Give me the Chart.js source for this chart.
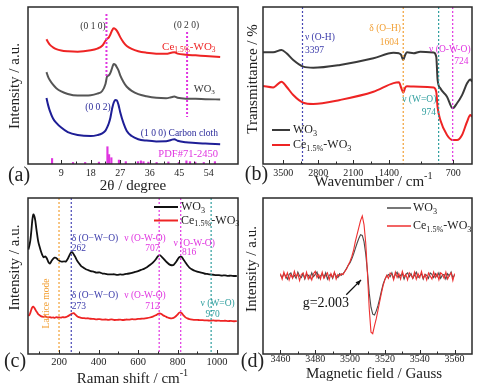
<!DOCTYPE html>
<html><head><meta charset="utf-8">
<script src="https://cdn.jsdelivr.net/npm/chart.js@4"></script>
<style>
html,body{margin:0;padding:0;background:#fff;}
#wrap{position:relative;width:480px;height:392px;overflow:hidden;background:#fff;}
canvas{position:absolute;}
</style></head><body>
<div id="wrap">
<canvas id="ca" width="240" height="195" style="left:0;top:0"></canvas>
<canvas id="cb" width="240" height="195" style="left:240px;top:0"></canvas>
<canvas id="cc" width="240" height="197" style="left:0;top:195px"></canvas>
<canvas id="cd" width="240" height="197" style="left:240px;top:195px"></canvas>
</div>
<script>
// ---------- (a) XRD ----------
const xrdTheta = [4.5,5,5.5,6.5,7.5,9,11,14,18,20,21.5,22.5,23,23.5,24,24.5,25,25.5,26,26.5,27,28,29,30.5,32.5,35,38,41,42.5,43.5,44.5,47,50,53,57.5];
const xrdCe    = [79.5,77.5,76,74.3,73.2,72.3,71.8,71.5,72.4,73.5,75.3,78.5,79.8,80.5,82.5,85,86.4,86,84.8,83,80.8,77.5,75.2,73.3,71.8,70.9,70.3,70.2,70.8,71.2,70.3,69.6,69.2,68.8,68.2];
const xrdWO3   = [58.5,55.5,53.5,50.5,48.3,46.2,44.6,43.6,43.8,44.8,46.5,51,55.8,56.4,58,61,63.7,63.2,61.5,59.5,56.5,52.3,49.2,46.6,44.5,43.2,42.2,41.9,42.5,43,42.2,41.6,41.5,41.3,41.1];
const xrdCloth = [42,37.5,34,29,26.2,23.2,20.3,18.5,17.8,18.4,19.5,21.3,23.3,25.8,29.5,35,39,40.8,40.5,37.5,33,26,21,17.8,15.8,14.9,14.4,14.5,15.3,15.8,14.8,13.8,13.4,13,12.6];
const pdfTheta  = [6.2,12.6,16.3,20.5,23.1,23.6,24.3,26.6,28.7,32.4,33.3,34.1,35.6,38.1,41.7,44.9,47.2,48.3,49.9,52.5,55.9];
const pdfHeight = [3.5,1,1,1.2,11,6,4,2.5,1.5,1.5,2,1.5,1.2,1,1.3,1,2,1.5,1.2,1,1.5];
const xrdTicks = [9,18,27,36,45,54];
const xrdMinor = [13.5,22.5,31.5,40.5,49.5];

// ---------- (b) FTIR ----------
const irWave = [4098,3919,3770,3681,3562,3384,3205,2729,2134,1777,1680,1640,1604,1570,1539,1420,1301,1063,1016,992,944,825,724,647,557,468,409,379];
const irWO3  = [71.1,71.1,72.6,70.5,66.2,62,61.3,63.1,67.3,70.9,70.5,69.4,66.2,69.4,71.1,70.5,71.5,71,68.3,53.5,48.2,42.9,35.5,38.7,43.9,51.4,53.9,52.4];
const irCe   = [49.7,48.8,52.4,49.2,43.9,39,38.2,40.8,46,51.5,52,48.5,45.4,48.5,49.5,49.3,49.2,48.8,46,36,28,18.5,15.3,15.3,18.5,26.9,31.2,30];
// tick labels as printed, and where along the plotted wavenumber scale the figure prints them
const irTickLabels = ['3500','2800','2100','1400','700'];
const irTickAt     = [3739,3116,2493,1857,713];
const irMinorAt    = [3428,2805,2175,1285];

// ---------- (c) Raman ----------
const ramanShift = [45,50,55,60,65,70,75,80,85,90,95,100,108,115,122,130,138,146,154,162,170,178,186,194,202,210,218,226,234,242,250,258,266,274,282,290,300,312,324,336,348,360,375,390,405,420,435,450,465,480,495,510,525,540,555,570,585,600,615,630,645,660,675,690,700,710,720,730,740,750,760,770,780,790,800,810,820,830,840,850,860,875,890,905,920,935,950,965,980,995,1010,1025,1040,1055,1070,1085,1100];
const ramanWO3 = [67.0,69.5,73.0,79.0,86.0,89.5,88.5,85.5,80.5,76.0,72.0,69.5,66.0,63.6,62.0,62.6,61.4,59.0,58.0,59.6,61.0,61.7,61.5,60.5,59.8,59.3,59.2,59.4,59.2,60.5,62.5,64.6,65.3,64.0,62.3,60.2,58.3,56.4,55.3,54.3,53.8,53.1,52.8,52.2,52.3,51.6,51.4,51.1,51.0,51.1,50.7,51.0,50.9,51.3,51.6,52.0,52.6,53.1,53.9,54.6,55.6,57.0,58.6,60.7,62.6,63.4,62.3,61.0,59.5,58.3,57.3,56.9,57.1,58.6,60.5,62.2,62.3,60.6,58.7,56.9,55.4,54.1,53.2,52.6,52.1,51.6,51.3,51.0,50.8,50.6,50.5,50.3,50.4,50.1,50.2,50.0,50.0];
const ramanCe  = [24.5,25.0,26.5,28.5,30.0,30.3,29.6,28.5,27.4,26.5,25.5,25.0,24.3,24.0,23.8,24.2,23.6,23.4,23.7,23.3,23.5,23.2,23.6,23.4,23.5,23.3,23.6,23.5,23.6,24.0,24.6,25.3,25.9,26.2,25.4,24.4,23.6,23.2,23.0,22.8,22.9,22.6,22.5,22.2,22.4,22.0,22.1,21.9,22.2,21.8,21.9,22.0,21.8,22.1,22.0,22.3,22.2,22.5,22.6,22.7,23.0,23.4,24.0,24.8,25.6,26.1,25.5,24.6,24.0,23.4,23.0,22.9,23.2,24.0,25.3,26.6,26.3,24.8,23.5,22.8,22.4,22.1,21.9,21.8,21.7,21.6,21.5,21.4,21.5,21.3,21.4,21.2,21.3,21.1,21.2,21.0,21.1];
const ramanTicks = [200,400,600,800,1000];
const ramanMinor = [100,300,500,700,900];

// ---------- (d) EPR ----------
const eprField = [3460,3461,3462,3463,3464,3465,3466,3467,3468,3469,3470,3471,3472,3473,3474,3475,3476,3477,3478,3479,3480,3481,3482,3483,3484,3485,3486,3487,3488,3489,3490,3491,3492,3493,3494,3495,3496,3497,3498,3499,3500,3501,3502,3503,3504,3505,3506,3507,3508,3509,3510,3511,3512,3513,3514,3515,3516,3517,3518,3519,3520,3521,3522,3523,3524,3525,3526,3527,3528,3529,3530,3531,3532,3533,3534,3535,3536,3537,3538,3539,3540,3541,3542,3543,3544,3545,3546,3547,3548,3549,3550,3551,3552,3553,3554,3555,3556,3557,3558,3559,3560];
const eprWO3 = [0.01,-0.02,0.03,0.00,-0.04,0.02,0.04,-0.02,0.01,-0.03,0.05,0.00,-0.02,0.03,-0.04,0.02,0.01,-0.03,0.04,-0.01,0.02,0.05,-0.03,0.00,0.03,-0.02,0.04,-0.04,0.01,0.02,-0.03,0.04,0.00,-0.02,0.03,0.01,
 0.03,0.06,0.10,0.14,0.17,0.22,0.28,0.35,0.42,0.48,0.53,0.52,0.44,0.28,0.05,-0.22,-0.40,-0.49,-0.50,-0.45,-0.38,-0.29,-0.19,-0.10,-0.04,0.00,
 0.02,-0.01,0.04,-0.03,0.02,0.05,-0.02,0.01,0.03,-0.04,0.02,0.04,-0.01,0.03,-0.03,0.01,0.05,-0.02,0.00,0.03,-0.04,0.02,0.01,-0.03,0.04,0.02,-0.02,0.03,-0.01,0.04,-0.03,0.01,0.02,-0.04,0.03,0.00,0.05,-0.02,0.01];
const eprCe = [0.03,-0.04,0.05,-0.02,0.04,-0.05,0.02,-0.03,0.06,-0.01,0.03,-0.06,0.02,0.04,-0.03,0.05,-0.04,0.01,-0.05,0.03,0.06,-0.02,0.02,-0.04,0.05,-0.03,0.01,0.04,-0.05,0.03,-0.02,0.05,-0.04,0.02,0.00,0.03,
 0.02,0.06,0.09,0.14,0.19,0.25,0.33,0.44,0.53,0.62,0.71,0.77,0.66,0.42,0.02,-0.42,-0.72,-0.74,-0.64,-0.55,-0.44,-0.33,-0.22,-0.12,-0.05,0.01,
 -0.03,0.04,0.02,-0.05,0.05,-0.02,0.03,-0.04,0.06,-0.01,0.02,-0.05,0.04,0.01,-0.03,0.05,-0.04,0.03,-0.02,0.06,-0.03,0.02,-0.05,0.04,0.00,-0.04,0.05,-0.02,0.03,-0.05,0.04,0.02,-0.03,0.05,-0.04,0.01,0.04,-0.06,0.03];
const eprTicks = [3460,3480,3500,3520,3540,3560];
const eprMinor = [3470,3490,3510,3530,3550];

// ---------- helpers ----------
const FONT = '"Liberation Serif","Times New Roman",serif';
function pts(xs, ys){ return xs.map((x,i)=>({x:x, y:ys[i]})); }
function richParts(str){
  const parts=[]; let i=0, buf='';
  while(i<str.length){
    const c=str[i];
    if((c==='_'||c==='^') && str[i+1]==='{'){
      if(buf){parts.push({t:buf,m:0}); buf='';}
      const j=str.indexOf('}',i);
      parts.push({t:str.slice(i+2,j), m:c==='_'?1:2});
      i=j+1;
    } else { buf+=c; i++; }
  }
  if(buf) parts.push({t:buf,m:0});
  return parts;
}
function drawRich(ctx, str, x, y, o){
  const size=o.size||10, parts=richParts(str);
  ctx.save();
  ctx.fillStyle=o.color||'#222';
  ctx.textBaseline='middle'; ctx.textAlign='left';
  let w=0;
  parts.forEach(p=>{ p.s = p.m? size*0.68 : size; ctx.font=p.s+'px '+FONT; p.w=ctx.measureText(p.t).width; w+=p.w; });
  ctx.translate(x,y);
  if(o.rotate) ctx.rotate(o.rotate);
  let cx = o.align==='center' ? -w/2 : (o.align==='right' ? -w : 0);
  parts.forEach(p=>{ ctx.font=p.s+'px '+FONT; const dy = p.m===1 ? size*0.3 : (p.m===2 ? -size*0.35 : 0); ctx.fillText(p.t, cx, dy); cx+=p.w; });
  ctx.restore();
}
function makeDecor(o){
  return { id:'decor', afterDraw(chart){
    const ctx=chart.ctx, a=chart.chartArea, xs=chart.scales.x, ys=chart.scales.y;
    ctx.save();
    (o.vlines||[]).forEach(v=>{
      const px=xs.getPixelForValue(v.x);
      const y0 = v.y0==null ? a.top : ys.getPixelForValue(v.y0);
      const y1 = v.y1==null ? a.bottom : ys.getPixelForValue(v.y1);
      ctx.beginPath(); ctx.setLineDash(v.dash||[2,2]); ctx.lineWidth=v.w||1.2; ctx.strokeStyle=v.color;
      ctx.moveTo(px,y0); ctx.lineTo(px,y1); ctx.stroke();
    });
    ctx.setLineDash([]);
    ctx.lineWidth=1.5; ctx.strokeStyle='#2a2a2a';
    ctx.strokeRect(a.left, a.top, a.right-a.left, a.bottom-a.top);
    ctx.lineWidth=1;
    (o.major||[]).forEach(v=>{ const px=Math.round(xs.getPixelForValue(v))+0.5; ctx.beginPath(); ctx.moveTo(px,a.bottom); ctx.lineTo(px,a.bottom-4); ctx.stroke(); });
    (o.minor||[]).forEach(v=>{ const px=Math.round(xs.getPixelForValue(v))+0.5; ctx.beginPath(); ctx.moveTo(px,a.bottom); ctx.lineTo(px,a.bottom-2.5); ctx.stroke(); });
    (o.labels||[]).forEach(l=>drawRich(ctx, l.t, xs.getPixelForValue(l.x), ys.getPixelForValue(l.y), l));
    (o.arrows||[]).forEach(r=>{
      const x0=xs.getPixelForValue(r.x0), y0=ys.getPixelForValue(r.y0), x1=xs.getPixelForValue(r.x1), y1=ys.getPixelForValue(r.y1);
      ctx.strokeStyle='#111'; ctx.fillStyle='#111'; ctx.lineWidth=1.3;
      ctx.beginPath(); ctx.moveTo(x0,y0); ctx.lineTo(x1,y1); ctx.stroke();
      const ang=Math.atan2(y1-y0,x1-x0), L=6;
      ctx.beginPath(); ctx.moveTo(x1,y1);
      ctx.lineTo(x1-L*Math.cos(ang-0.4), y1-L*Math.sin(ang-0.4));
      ctx.lineTo(x1-L*Math.cos(ang+0.4), y1-L*Math.sin(ang+0.4));
      ctx.closePath(); ctx.fill();
    });
    if(o.legend){
      const g=o.legend;
      chart.data.datasets.forEach((ds,i)=>{
        const y=g.y+i*g.dy;
        ctx.strokeStyle=ds.borderColor; ctx.lineWidth=g.lw;
        ctx.beginPath(); ctx.moveTo(g.x0,y); ctx.lineTo(g.x1,y); ctx.stroke();
        drawRich(ctx, ds.label, g.tx, y, {size:g.size, color:'#222', align:'left'});
      });
    }
    (o.titles||[]).forEach(t=>drawRich(ctx, t.t, t.px, t.py, t));
    ctx.restore();
  }};
}
function xScale(min,max,ticks,h,pad,reverse,size,labels){
  return { type:'linear', min:min, max:max, reverse:!!reverse,
    afterBuildTicks: s=>{ s.ticks = ticks.map(v=>({value:v})); },
    afterFit: s=>{ s.height=h; },
    grid:{display:false, drawTicks:false}, border:{display:false},
    ticks:{ autoSkip:false, maxRotation:0, padding:pad, color:'#222', font:{family:FONT, size:size||10},
      callback:(v,i)=> labels ? labels[i] : String(v) } };
}
function baseOpts(pad, xs, ymin, ymax){
  return { responsive:false, animation:false, devicePixelRatio:1,
    layout:{padding:pad},
    plugins:{legend:{display:false}, tooltip:{enabled:false}},
    elements:{point:{radius:0}},
    scales:{ x:xs, y:{display:false, min:ymin, max:ymax} } };
}
const ROT = -Math.PI/2;
const RED='#ee2424', MAG='#e035e0', ORA='#f2a035', BLU='#4646b4', TEAL='#2e9e9e';

// ---------- chart (a) ----------
new Chart(document.getElementById('ca'), {
  type:'line',
  data:{ datasets:[
    {label:'Ce_{1.5%}-WO_{3}', data:pts(xrdTheta,xrdCe), borderColor:RED, borderWidth:2, cubicInterpolationMode:'monotone'},
    {label:'WO_{3}', data:pts(xrdTheta,xrdWO3), borderColor:'#555555', borderWidth:2, cubicInterpolationMode:'monotone'},
    {label:'Carbon cloth', data:pts(xrdTheta,xrdCloth), borderColor:'#1e1e96', borderWidth:2, cubicInterpolationMode:'monotone'},
    {type:'bar', label:'PDF#71-2450', data:pts(pdfTheta,pdfHeight), backgroundColor:MAG, barThickness:1.5}
  ]},
  options: baseOpts({left:28, top:7, right:2, bottom:0}, xScale(4.2,57.6,xrdTicks,31,3.5), 0, 100),
  plugins:[makeDecor({
    major:xrdTicks, minor:xrdMinor,
    vlines:[{x:22.8, y0:95.5, y1:55.4, color:MAG, w:2, dash:[2,2]},{x:47.4, y0:84, y1:30, color:MAG, w:2, dash:[2,2]}],
    labels:[
      {t:'(0 1 0)', x:18.7, y:87.3, color:'#333', size:9.5, align:'center'},
      {t:'(0 2 0)', x:47.2, y:88.5, color:'#333', size:9.5, align:'center'},
      {t:'Ce_{1.5%}-WO_{3}', x:56.1, y:74.5, color:RED, size:11, align:'right'},
      {t:'WO_{3}', x:55.9, y:47.8, color:'#333', size:10.5, align:'right'},
      {t:'(0 0 2)', x:20.2, y:35.7, color:'#2a2a9a', size:9.5, align:'center'},
      {t:'(1 0 0) Carbon cloth', x:56.8, y:19.7, color:'#2a2a9a', size:9.5, align:'right'},
      {t:'PDF#71-2450', x:56.8, y:6.4, color:MAG, size:10.5, align:'right'}
    ],
    titles:[
      {t:'Intensity / a.u.', px:15.5, py:86, size:15, rotate:ROT, align:'center'},
      {t:'2θ / degree', px:133, py:186, size:15, align:'center'},
      {t:'(a)', px:19, py:176, size:20, align:'center'}
    ]
  })]
});

// ---------- chart (b) ----------
new Chart(document.getElementById('cb'), {
  type:'line',
  data:{ datasets:[
    {label:'WO_{3}', data:pts(irWave,irWO3), borderColor:'#3a3a3a', borderWidth:2, cubicInterpolationMode:'monotone'},
    {label:'Ce_{1.5%}-WO_{3}', data:pts(irWave,irCe), borderColor:RED, borderWidth:2, cubicInterpolationMode:'monotone'}
  ]},
  options: baseOpts({left:23, top:7, right:8, bottom:0}, xScale(380,4100,irTickAt,31,3,true,10,irTickLabels), 0, 100),
  plugins:[makeDecor({
    major:irTickAt, minor:irMinorAt,
    vlines:[{x:3397,color:BLU},{x:1604,color:ORA},{x:974,color:TEAL},{x:724,color:MAG}],
    labels:[
      {t:'ν (O-H)', x:3354, y:80.3, color:'#3a3aaa', size:9.5, align:'left'},
      {t:'3397', x:3354, y:72.6, color:'#3a3aaa', size:9.5, align:'left'},
      {t:'δ (O–H)', x:1926, y:86.6, color:ORA, size:9.5, align:'center'},
      {t:'1604', x:1855, y:77.7, color:ORA, size:9.5, align:'center'},
      {t:'ν (O-W-O)', x:775, y:73.2, color:MAG, size:9.5, align:'center'},
      {t:'724', x:569, y:65, color:MAG, size:9.5, align:'center'},
      {t:'ν (W=O)', x:1319, y:40.8, color:TEAL, size:9.5, align:'center'},
      {t:'974', x:1149, y:32.7, color:TEAL, size:9.5, align:'center'}
    ],
    legend:{x0:32, x1:50, tx:53, y:130, dy:15, size:12, lw:2},
    titles:[
      {t:'Transmittance / %', px:13.5, py:79, size:15, rotate:ROT, align:'center'},
      {t:'Wavenumber / cm^{-1}', px:133.5, py:182, size:15, align:'center'},
      {t:'(b)', px:16.5, py:175, size:20, align:'center'}
    ]
  })]
});

// ---------- chart (c) ----------
new Chart(document.getElementById('cc'), {
  type:'line',
  data:{ datasets:[
    {label:'WO_{3}', data:pts(ramanShift,ramanWO3), borderColor:'#111111', borderWidth:1.8, tension:0.3},
    {label:'Ce_{1.5%}-WO_{3}', data:pts(ramanShift,ramanCe), borderColor:RED, borderWidth:1.8, tension:0.3}
  ]},
  options: baseOpts({left:28, top:3, right:2, bottom:0}, xScale(43,1106,ramanTicks,38,2,false,10.5), 0, 100),
  plugins:[makeDecor({
    major:ramanTicks, minor:ramanMinor,
    vlines:[{x:200,color:ORA},{x:262,color:BLU},{x:707,color:MAG},{x:816,color:MAG},{x:970,color:TEAL}],
    labels:[
      {t:'δ (O−W−O)', x:264, y:74.2, color:'#3a3aaa', size:9.5, align:'left'},
      {t:'262', x:264, y:67.7, color:'#3a3aaa', size:9.5, align:'left'},
      {t:'ν (O-W-O)', x:635, y:74.2, color:MAG, size:9.5, align:'center'},
      {t:'707', x:673, y:67.7, color:MAG, size:9.5, align:'center'},
      {t:'ν (O-W-O)', x:884, y:71, color:MAG, size:9.5, align:'center'},
      {t:'816', x:858, y:65.2, color:MAG, size:9.5, align:'center'},
      {t:'δ (O−W−O)', x:264, y:37.8, color:'#3a3aaa', size:9.5, align:'left'},
      {t:'273', x:264, y:30.3, color:'#3a3aaa', size:9.5, align:'left'},
      {t:'ν (O-W-O)', x:635, y:37.8, color:MAG, size:9.5, align:'center'},
      {t:'712', x:673, y:30.3, color:MAG, size:9.5, align:'center'},
      {t:'ν (W=O)', x:1003, y:32.5, color:TEAL, size:9.5, align:'center'},
      {t:'970', x:977, y:25.4, color:TEAL, size:9.5, align:'center'},
      {t:'Lattice mode', x:139, y:32.4, color:ORA, size:9.5, align:'center', rotate:ROT}
    ],
    legend:{x0:154, x1:178, tx:181, y:12, dy:13.5, size:12, lw:2},
    titles:[
      {t:'Intensity / a.u.', px:15.5, py:72.5, size:15, rotate:ROT, align:'center'},
      {t:'Raman shift / cm^{-1}', px:132.5, py:184, size:15, align:'center'},
      {t:'(c)', px:15, py:167, size:20, align:'center'}
    ]
  })]
});

// ---------- chart (d) ----------
new Chart(document.getElementById('cd'), {
  type:'line',
  data:{ datasets:[
    {label:'WO_{3}', data:pts(eprField,eprWO3), borderColor:'#4a4a4a', borderWidth:1.1, tension:0, order:1},
    {label:'Ce_{1.5%}-WO_{3}', data:pts(eprField,eprCe), borderColor:'#ee3030', borderWidth:1.1, tension:0, order:0}
  ]},
  options: baseOpts({left:23, top:3, right:8, bottom:0}, xScale(3450,3570,eprTicks,38,-1), -1, 1),
  plugins:[makeDecor({
    major:eprTicks, minor:eprMinor,
    labels:[{t:'g=2.003', x:3472.8, y:-0.35, color:'#111', size:14, align:'left'}],
    arrows:[{x0:3497.8, y0:-0.24, x1:3506.3, y1:-0.05}],
    legend:{x0:147, x1:171, tx:173, y:13, dy:18, size:12, lw:1.5},
    titles:[
      {t:'Intensity / a.u.', px:12.5, py:74, size:15, rotate:ROT, align:'center'},
      {t:'Magnetic field / Gauss', px:134, py:179, size:15, align:'center'},
      {t:'(d)', px:12.5, py:167, size:20, align:'center'}
    ]
  })]
});
</script>
</body></html>
